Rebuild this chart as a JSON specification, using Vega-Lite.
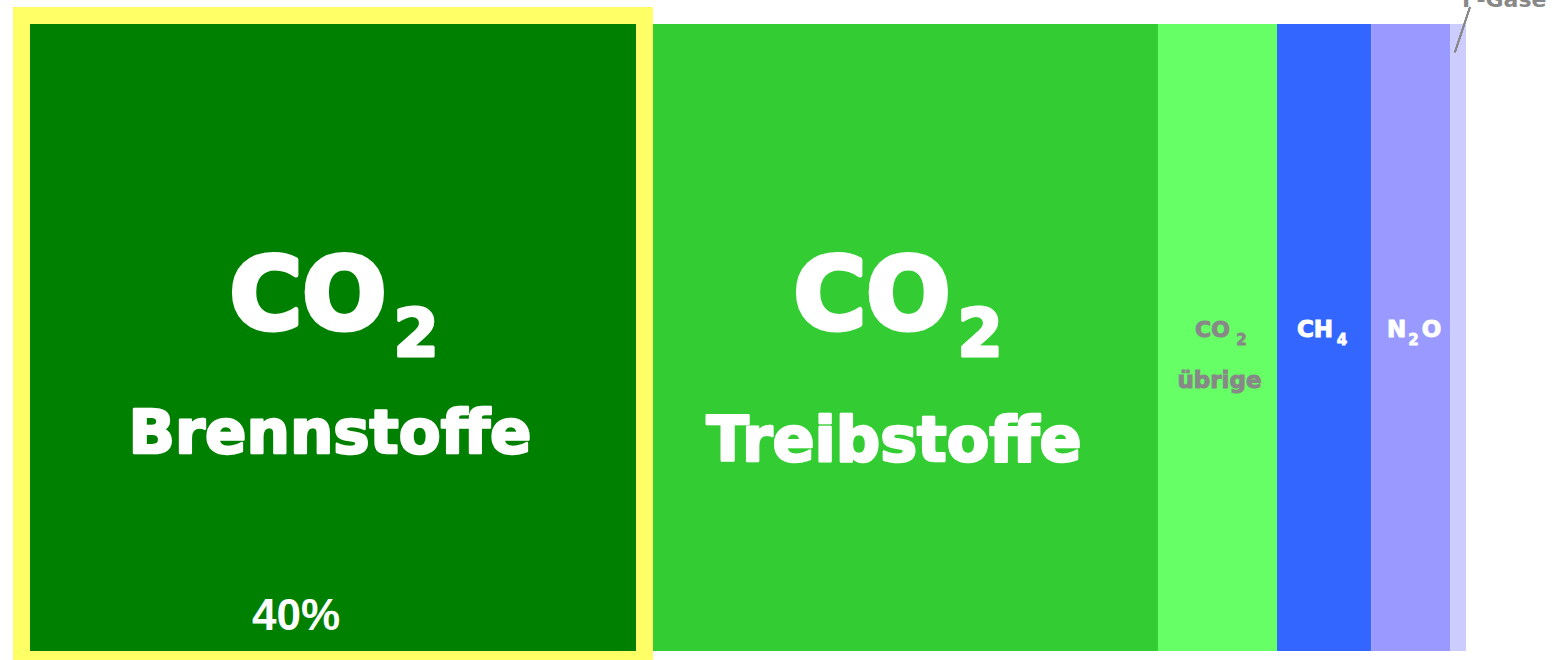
{
  "$schema": "https://vega.github.io/schema/vega-lite/v6.json",
  "width": 1436,
  "height": 627,
  "autosize": {"type": "none"},
  "padding": {"left": 30, "top": 24, "right": 100, "bottom": 9},
  "background": "white",
  "config": {"view": {"stroke": null}},
  "data": {
    "values": [
      {"name": "CO2 Brennstoffe", "start": 0, "end": 42.2, "mid": 21.1, "pct": "40%"},
      {"name": "CO2 Treibstoffe", "start": 42.2, "end": 78.55, "mid": 60.375, "pct": ""},
      {"name": "CO2 übrige", "start": 78.55, "end": 86.84, "mid": 82.695, "pct": ""},
      {"name": "CH4", "start": 86.84, "end": 93.39, "mid": 90.115, "pct": ""},
      {"name": "N2O", "start": 93.39, "end": 98.89, "mid": 96.14, "pct": ""},
      {"name": "F-Gase", "start": 98.89, "end": 100, "mid": 99.445, "pct": ""}
    ]
  },
  "layer": [
    {
      "mark": {"type": "bar", "cornerRadius": 0},
      "encoding": {
        "x": {"field": "start", "type": "quantitative", "scale": {"domain": [0, 100], "nice": false}, "axis": null},
        "x2": {"field": "end"},
        "y": {"datum": 0, "type": "quantitative", "scale": {"domain": [0, 100], "nice": false}, "axis": null},
        "y2": {"datum": 100},
        "color": {
          "field": "name", "type": "nominal", "legend": null,
          "scale": {
            "domain": ["CO2 Brennstoffe", "CO2 Treibstoffe", "CO2 übrige", "CH4", "N2O", "F-Gase"],
            "range": ["#008000", "#33CC33", "#66FF66", "#3366FF", "#9999FF", "#CCCCFF"]
          }
        }
      }
    },
    {
      "transform": [{"filter": "datum.name === 'CO2 Brennstoffe'"}],
      "mark": {"type": "bar", "fill": "#FFFF66", "stroke": "#FFFF66", "strokeWidth": 34, "strokeJoin": "miter"},
      "encoding": {
        "x": {"field": "start", "type": "quantitative"},
        "x2": {"field": "end"},
        "y": {"datum": 0, "type": "quantitative"},
        "y2": {"datum": 100}
      }
    },
    {
      "transform": [{"filter": "datum.name === 'CO2 Brennstoffe'"}],
      "mark": {"type": "bar", "fill": "#008000"},
      "encoding": {
        "x": {"field": "start", "type": "quantitative"},
        "x2": {"field": "end"},
        "y": {"datum": 0, "type": "quantitative"},
        "y2": {"datum": 100}
      }
    },
    {
      "transform": [{"filter": "datum.name === 'CO2 Brennstoffe' || datum.name === 'CO2 Treibstoffe'"}],
      "mark": {"type": "text", "text": "CO", "font": "DejaVu Sans", "fontWeight": "bold", "fontSize": 99, "color": "white", "stroke": "white", "strokeWidth": 5, "strokeJoin": "round", "align": "center", "baseline": "alphabetic", "dx": -25},
      "encoding": {"x": {"field": "mid", "type": "quantitative"}, "y": {"datum": 51.3, "type": "quantitative"}}
    },
    {
      "transform": [{"filter": "datum.name === 'CO2 Brennstoffe' || datum.name === 'CO2 Treibstoffe'"}],
      "mark": {"type": "text", "text": "2", "font": "DejaVu Sans", "fontWeight": "bold", "fontSize": 65, "color": "white", "stroke": "white", "strokeWidth": 3, "strokeJoin": "round", "align": "center", "baseline": "alphabetic", "dx": 83},
      "encoding": {"x": {"field": "mid", "type": "quantitative"}, "y": {"datum": 47.0, "type": "quantitative"}}
    },
    {
      "transform": [{"filter": "datum.name === 'CO2 Brennstoffe'"}],
      "mark": {"type": "text", "text": "Brennstoffe", "font": "DejaVu Sans", "fontWeight": "bold", "fontSize": 61, "color": "white", "stroke": "white", "strokeWidth": 2.5, "strokeJoin": "round", "align": "center", "baseline": "alphabetic", "dx": -3},
      "encoding": {"x": {"field": "mid", "type": "quantitative"}, "y": {"datum": 31.5, "type": "quantitative"}}
    },
    {
      "transform": [{"filter": "datum.name === 'CO2 Treibstoffe'"}],
      "mark": {"type": "text", "text": "Treibstoffe", "font": "DejaVu Sans", "fontWeight": "bold", "fontSize": 62, "color": "white", "stroke": "white", "strokeWidth": 2.5, "strokeJoin": "round", "align": "center", "baseline": "alphabetic", "dx": -3},
      "encoding": {"x": {"field": "mid", "type": "quantitative"}, "y": {"datum": 30.3, "type": "quantitative"}}
    },
    {
      "transform": [{"filter": "datum.name === 'CO2 Brennstoffe'"}],
      "mark": {"type": "text", "font": "Liberation Sans", "fontWeight": "bold", "fontSize": 44, "color": "white", "align": "center", "baseline": "alphabetic", "dx": -37},
      "encoding": {"x": {"field": "mid", "type": "quantitative"}, "y": {"datum": 3.35, "type": "quantitative"}, "text": {"field": "pct"}}
    },
    {
      "transform": [{"filter": "datum.name === 'CO2 übrige'"}],
      "mark": {"type": "text", "text": "CO", "font": "DejaVu Sans", "fontWeight": "bold", "fontSize": 22, "color": "#888888", "stroke": "#888888", "strokeWidth": 1, "align": "center", "baseline": "alphabetic", "dx": -5},
      "encoding": {"x": {"field": "mid", "type": "quantitative"}, "y": {"datum": 50.1, "type": "quantitative"}}
    },
    {
      "transform": [{"filter": "datum.name === 'CO2 übrige'"}],
      "mark": {"type": "text", "text": "2", "font": "DejaVu Sans", "fontWeight": "bold", "fontSize": 15, "color": "#888888", "stroke": "#888888", "strokeWidth": 0.8, "align": "center", "baseline": "alphabetic", "dx": 24},
      "encoding": {"x": {"field": "mid", "type": "quantitative"}, "y": {"datum": 48.8, "type": "quantitative"}}
    },
    {
      "transform": [{"filter": "datum.name === 'CO2 übrige'"}],
      "mark": {"type": "text", "text": "übrige", "font": "DejaVu Sans", "fontWeight": "bold", "fontSize": 23, "color": "#888888", "stroke": "#888888", "strokeWidth": 1, "align": "center", "baseline": "alphabetic", "dx": 2},
      "encoding": {"x": {"field": "mid", "type": "quantitative"}, "y": {"datum": 41.9, "type": "quantitative"}}
    },
    {
      "transform": [{"filter": "datum.name === 'CH4'"}],
      "mark": {"type": "text", "text": "CH", "font": "DejaVu Sans", "fontWeight": "bold", "fontSize": 23, "color": "white", "stroke": "white", "strokeWidth": 1, "align": "center", "baseline": "alphabetic", "dx": -9},
      "encoding": {"x": {"field": "mid", "type": "quantitative"}, "y": {"datum": 50.1, "type": "quantitative"}}
    },
    {
      "transform": [{"filter": "datum.name === 'CH4'"}],
      "mark": {"type": "text", "text": "4", "font": "DejaVu Sans", "fontWeight": "bold", "fontSize": 15, "color": "white", "stroke": "white", "strokeWidth": 0.8, "align": "center", "baseline": "alphabetic", "dx": 18},
      "encoding": {"x": {"field": "mid", "type": "quantitative"}, "y": {"datum": 48.8, "type": "quantitative"}}
    },
    {
      "transform": [{"filter": "datum.name === 'N2O'"}],
      "mark": {"type": "text", "text": "N", "font": "DejaVu Sans", "fontWeight": "bold", "fontSize": 23, "color": "white", "stroke": "white", "strokeWidth": 1, "align": "center", "baseline": "alphabetic", "dx": -14},
      "encoding": {"x": {"field": "mid", "type": "quantitative"}, "y": {"datum": 50.1, "type": "quantitative"}}
    },
    {
      "transform": [{"filter": "datum.name === 'N2O'"}],
      "mark": {"type": "text", "text": "2", "font": "DejaVu Sans", "fontWeight": "bold", "fontSize": 15, "color": "white", "stroke": "white", "strokeWidth": 0.8, "align": "center", "baseline": "alphabetic", "dx": 3},
      "encoding": {"x": {"field": "mid", "type": "quantitative"}, "y": {"datum": 48.8, "type": "quantitative"}}
    },
    {
      "transform": [{"filter": "datum.name === 'N2O'"}],
      "mark": {"type": "text", "text": "O", "font": "DejaVu Sans", "fontWeight": "bold", "fontSize": 23, "color": "white", "stroke": "white", "strokeWidth": 1, "align": "center", "baseline": "alphabetic", "dx": 21},
      "encoding": {"x": {"field": "mid", "type": "quantitative"}, "y": {"datum": 50.1, "type": "quantitative"}}
    },
    {
      "transform": [{"filter": "datum.name === 'F-Gase'"}],
      "mark": {"type": "text", "text": "F-Gase", "font": "DejaVu Sans", "fontWeight": "bold", "fontSize": 22, "color": "#888888", "align": "left", "baseline": "alphabetic", "dx": 4},
      "encoding": {"x": {"field": "mid", "type": "quantitative"}, "y": {"datum": 102.7, "type": "quantitative"}}
    },
    {
      "mark": {"type": "rule", "color": "#888888", "strokeWidth": 1.5},
      "encoding": {
        "x": {"datum": 99.23, "type": "quantitative"},
        "x2": {"datum": 100.28},
        "y": {"datum": 95.5, "type": "quantitative"},
        "y2": {"datum": 102.7}
      }
    }
  ]
}
